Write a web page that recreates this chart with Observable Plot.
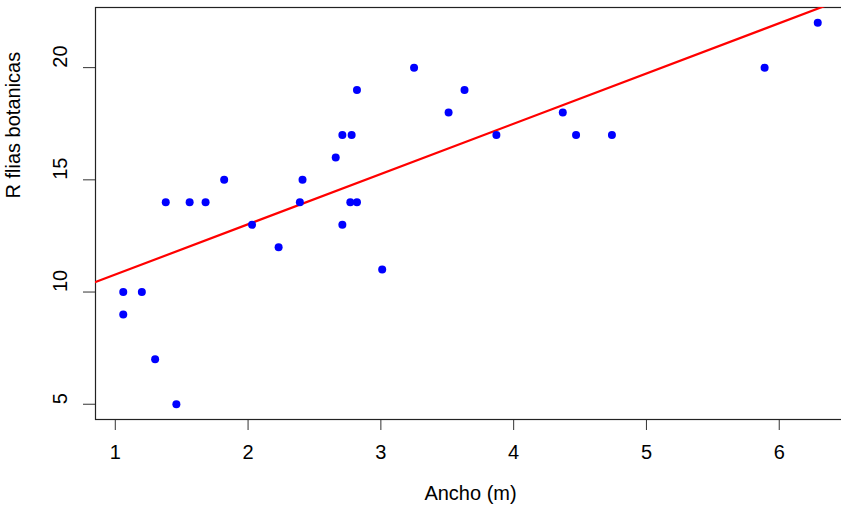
<!DOCTYPE html>
<html>
<head>
<meta charset="utf-8">
<script src="https://cdn.jsdelivr.net/npm/d3@7"></script>
<script src="https://cdn.jsdelivr.net/npm/@observablehq/plot@0.6"></script>
<style>
  html, body { margin: 0; padding: 0; background: #fff; overflow: hidden; }
  #chart svg { max-width: none; display: block; }
</style>
</head>
<body>
<div id="chart"></div>
<script>
// Data
const ancho = [1.06, 1.20, 1.06, 1.30, 1.46, 1.38, 1.56, 1.68, 1.82, 2.03, 2.23, 2.39, 2.41, 2.66, 2.71,
               2.78, 2.71, 2.77, 2.82, 2.82, 3.01, 3.25, 3.51, 3.63, 3.87, 4.37, 4.47, 4.74, 5.89, 6.29];
const familias = [10, 10, 9, 7, 5, 14, 14, 14, 15, 13, 12, 14, 15, 16, 17,
                  17, 13, 14, 14, 19, 11, 20, 18, 19, 17, 18, 17, 17, 20, 22];
const xTicks = [1, 2, 3, 4, 5, 6];
const yTicks = [5, 10, 15, 20];
const intercept = 8.54;
const slope = 2.24;
const xLabel = "Ancho (m)";
const yLabel = "R flias botanicas";

const points = ancho.map((x, i) => ({x, y: familias[i]}));
const xDomain = [0.851, 6.499];
const yDomain = [4.32, 22.68];
const fitLine = xDomain.map(x => ({x, y: intercept + slope * x}));

const font = "'Liberation Sans Narrow', 'Liberation Sans', Arial, sans-serif";

const chart = Plot.plot({
  width: 845,
  height: 513,
  marginLeft: 95,
  marginRight: 0,
  marginTop: 7,
  marginBottom: 94,
  style: {fontFamily: font, fontSize: "20px", color: "#000", background: "#fff"},
  x: {domain: xDomain},
  y: {domain: yDomain},
  marks: [
    Plot.axisX({ticks: xTicks, tickSize: 11, tickPadding: 14, tickFormat: d => String(d),
                label: null, fontSize: 20, stroke: "#333"}),
    Plot.axisY({ticks: yTicks, tickSize: 12, text: null, label: null, stroke: "#333"}),
    Plot.text(yTicks, {y: d => d, frameAnchor: "left", text: d => String(d), rotate: -90,
                       dx: -35, fontSize: 20, fill: "#000"}),
    Plot.text([xLabel], {frameAnchor: "bottom", dy: 80, text: d => d, fontSize: 20, fill: "#000"}),
    Plot.text([yLabel], {frameAnchor: "left", dx: -82, dy: -15, rotate: -90, text: d => d, fontSize: 20, fill: "#000"}),
    Plot.frame({stroke: "#222", strokeWidth: 1.2}),
    Plot.line(fitLine, {x: "x", y: "y", stroke: "#ff0000", strokeWidth: 2.2, clip: true}),
    Plot.dot(points, {x: "x", y: "y", r: 4, fill: "#0000ff", stroke: "none"})
  ]
});
document.getElementById("chart").appendChild(chart);
</script>
</body>
</html>
